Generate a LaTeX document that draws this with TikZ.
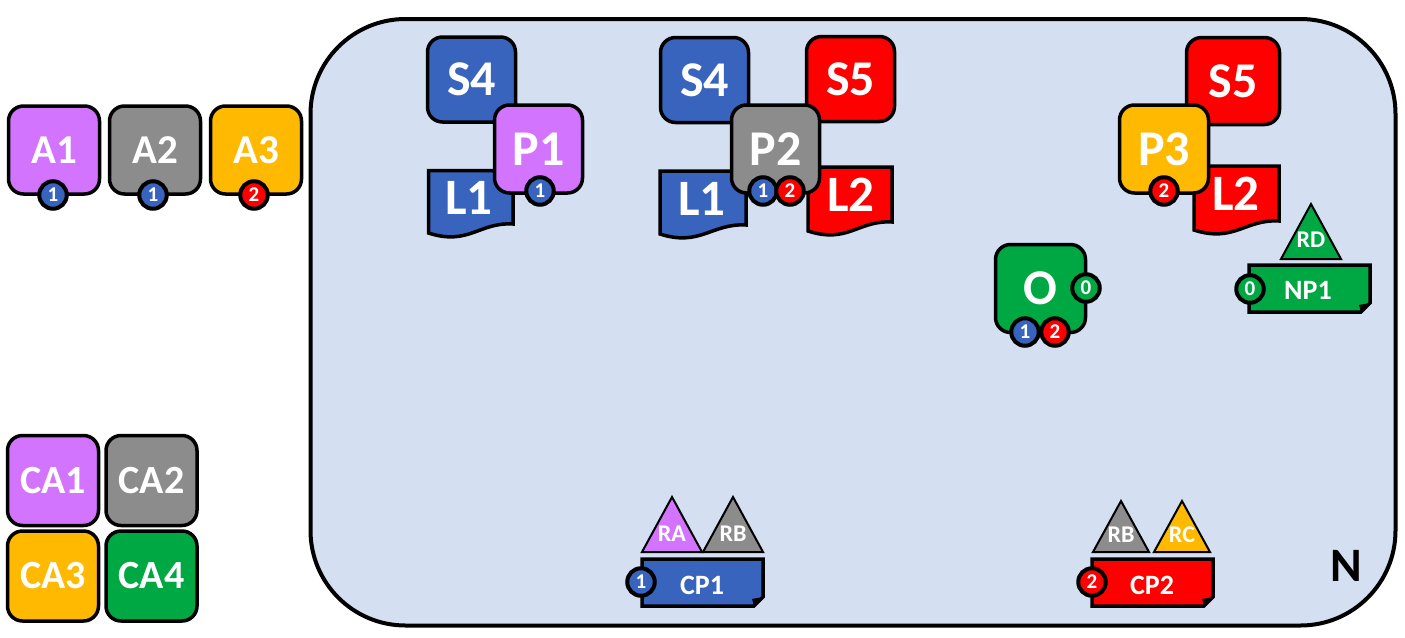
\documentclass[tikz,border=0pt]{standalone}
\usepackage{fontspec}
\usepackage{xcolor}
\setmainfont{Carlito}

\definecolor{panelblue}{HTML}{D4DFF1}
\definecolor{docblue}{HTML}{3864BE}
\definecolor{tilepurple}{HTML}{D374FF}
\definecolor{tilegray}{HTML}{8C8C8C}
\definecolor{tileamber}{HTML}{FFB900}
\definecolor{tilered}{HTML}{FF0000}
\definecolor{tilegreen}{HTML}{00A843}

\tikzset{
  tile/.style={draw=black, line width=3.5pt, rounded corners=15pt, fill=#1, text=white,
    minimum width=88pt, minimum height=85pt, inner sep=0pt, font=\fontsize{50}{50}\selectfont\bfseries},
  apptile/.style={tile=#1, minimum width=91pt, minimum height=88pt, font=\fontsize{41}{41}\selectfont\bfseries},
  clienttile/.style={tile=#1, minimum width=91pt, minimum height=90pt, font=\fontsize{40}{40}\selectfont\bfseries},
  badge/.style={circle, draw=black, line width=4pt, fill=#1, text=white, minimum size=27.5pt,
    inner sep=0pt, font=\fontsize{21}{21}\selectfont\bfseries},
  doclabel/.style={text=white, inner sep=0pt, font=\fontsize{51}{51}\selectfont\bfseries},
  notelabel/.style={text=white, inner sep=0pt, font=\fontsize{28}{28}\selectfont\bfseries},
  rolelabel/.style={text=white, inner sep=0pt, font=\fontsize{24}{24}\selectfont\bfseries},
  outline/.style={draw=black, line width=3.5pt, line join=miter}
}

\begin{document}
\begin{tikzpicture}[x=1pt, y=-1pt]

% Fix the page
\useasboundingbox (0,0) rectangle (1405,637);

% Wavy sheet: left, right, top, bottom of the right edge, colour
\def\docsheet#1#2#3#4#5{
  \draw[outline, fill=#5] (#1,#3) -- (#2,#3) -- (#2,#4)
    .. controls (#2-34,#4-2) and (#1+40,#4+22) .. (#1,#4+9) -- cycle;
}

% Note with folded corner: left, top, colour
\def\notesheet#1#2#3{
  \draw[outline, fill=#3] (#1,#2) -- (#1+121,#2) -- (#1+121,#2+38) -- (#1+112,#2+47) -- (#1,#2+47) -- cycle;
  \fill[black] (#1+121,#2+38) -- (#1+112,#2+47) -- (#1+110,#2+40) -- cycle;
}

% Role triangle: centre, half width, apex, base, colour
\def\roletri#1#2#3#4#5{
  \draw[draw=black, line width=2pt, line join=miter, fill=#5] (#1,#3) -- (#1+#2,#4) -- (#1-#2,#4) -- cycle;
}

% Draw the network panel
\draw[line width=4pt, fill=panelblue, rounded corners=95pt] (310.5,19) rectangle (1395.5,625.5);
\node[inner sep=0pt, font=\fontsize{48}{48}\selectfont\bfseries] (netN) at (1346,566) {N};

% Draw the applications on the left
\node[apptile=tilepurple] (appA) at (54,150) {A1};
\node[apptile=tilegray] (appB) at (155,150) {A2};
\node[apptile=tileamber] (appC) at (256,150) {A3};
\node[badge=docblue] (appAbadge) at (53,195) {1};
\node[badge=docblue] (appBbadge) at (153,195) {1};
\node[badge=tilered] (appCbadge) at (254,195) {2};

% Draw the client apps
\node[clienttile=tilepurple] (clientA) at (53,480.5) {CA1};
\node[clienttile=tilegray] (clientB) at (151.5,480.5) {CA2};
\node[clienttile=tileamber] (clientC) at (53,576) {CA3};
\node[clienttile=tilegreen] (clientD) at (151.5,576) {CA4};

% First group
\node[tile=docblue] (storeA) at (471.5,79.5) {S4};
\docsheet{428.5}{513}{170.5}{224}{docblue}
\node[doclabel] (logA) at (469,198) {L1};
\node[tile=tilepurple, minimum height=88pt] (portA) at (538.5,149) {P1};
\node[badge=docblue] (portAbadge) at (540,191) {1};

% Second group
\node[tile=docblue] (storeB) at (704.5,80) {S4};
\node[tile=tilered] (storeC) at (850.5,79) {S5};
\docsheet{660}{746}{171}{225}{docblue}
\node[doclabel] (logB) at (702,199) {L1};
\docsheet{808}{892}{167}{222}{tilered}
\node[doclabel] (logC) at (851,195) {L2};
\node[tile=tilegray, minimum height=88pt] (portB) at (775.5,149) {P2};
\node[badge=docblue] (portBbadgeA) at (763,191) {1};
\node[badge=tilered] (portBbadgeB) at (790,191) {2};

% Third group
\node[tile=tilered, minimum width=93pt, minimum height=87pt] (storeD) at (1233,81) {S5};
\docsheet{1194}{1279}{166}{221}{tilered}
\node[doclabel] (logD) at (1236,194) {L2};
\node[tile=tileamber, minimum width=89pt, minimum height=88pt] (portC) at (1164,149) {P3};
\node[badge=tilered] (portCbadge) at (1164,191) {2};

% Router
\node[tile=tilegreen, minimum width=90pt, minimum height=88pt] (router) at (1040.5,288.5) {O};
\node[badge=tilegreen] (routerbadgeC) at (1086,288) {0};
\node[badge=docblue] (routerbadgeA) at (1025,332) {1};
\node[badge=tilered] (routerbadgeB) at (1055,332) {2};

% Notes with their roles
\roletri{1311}{30}{204}{259}{tilegreen}
\node[rolelabel] (roleD) at (1311,240) {RD};
\notesheet{1249}{265}{tilegreen}
\node[notelabel] (noteN) at (1308,290) {NP1};
\node[badge=tilegreen] (noteNbadge) at (1250,289) {0};

\roletri{672}{30}{497}{552}{tilepurple}
\roletri{733}{30}{497}{552}{tilegray}
\node[rolelabel] (roleA) at (672,534) {RA};
\node[rolelabel] (roleB) at (733,534) {RB};
\notesheet{642}{559}{docblue}
\node[notelabel] (noteA) at (702,585) {CP1};
\node[badge=docblue] (noteAbadge) at (641,582) {1};

\roletri{1121}{28}{501}{552}{tilegray}
\roletri{1182}{28}{501}{552}{tileamber}
\node[rolelabel] (roleE) at (1121,535) {RB};
\node[rolelabel] (roleC) at (1182,535) {RC};
\notesheet{1092}{559}{tilered}
\node[notelabel] (noteB) at (1152,585) {CP2};
\node[badge=tilered] (noteBbadge) at (1092,582) {2};

\end{tikzpicture}
\end{document}
